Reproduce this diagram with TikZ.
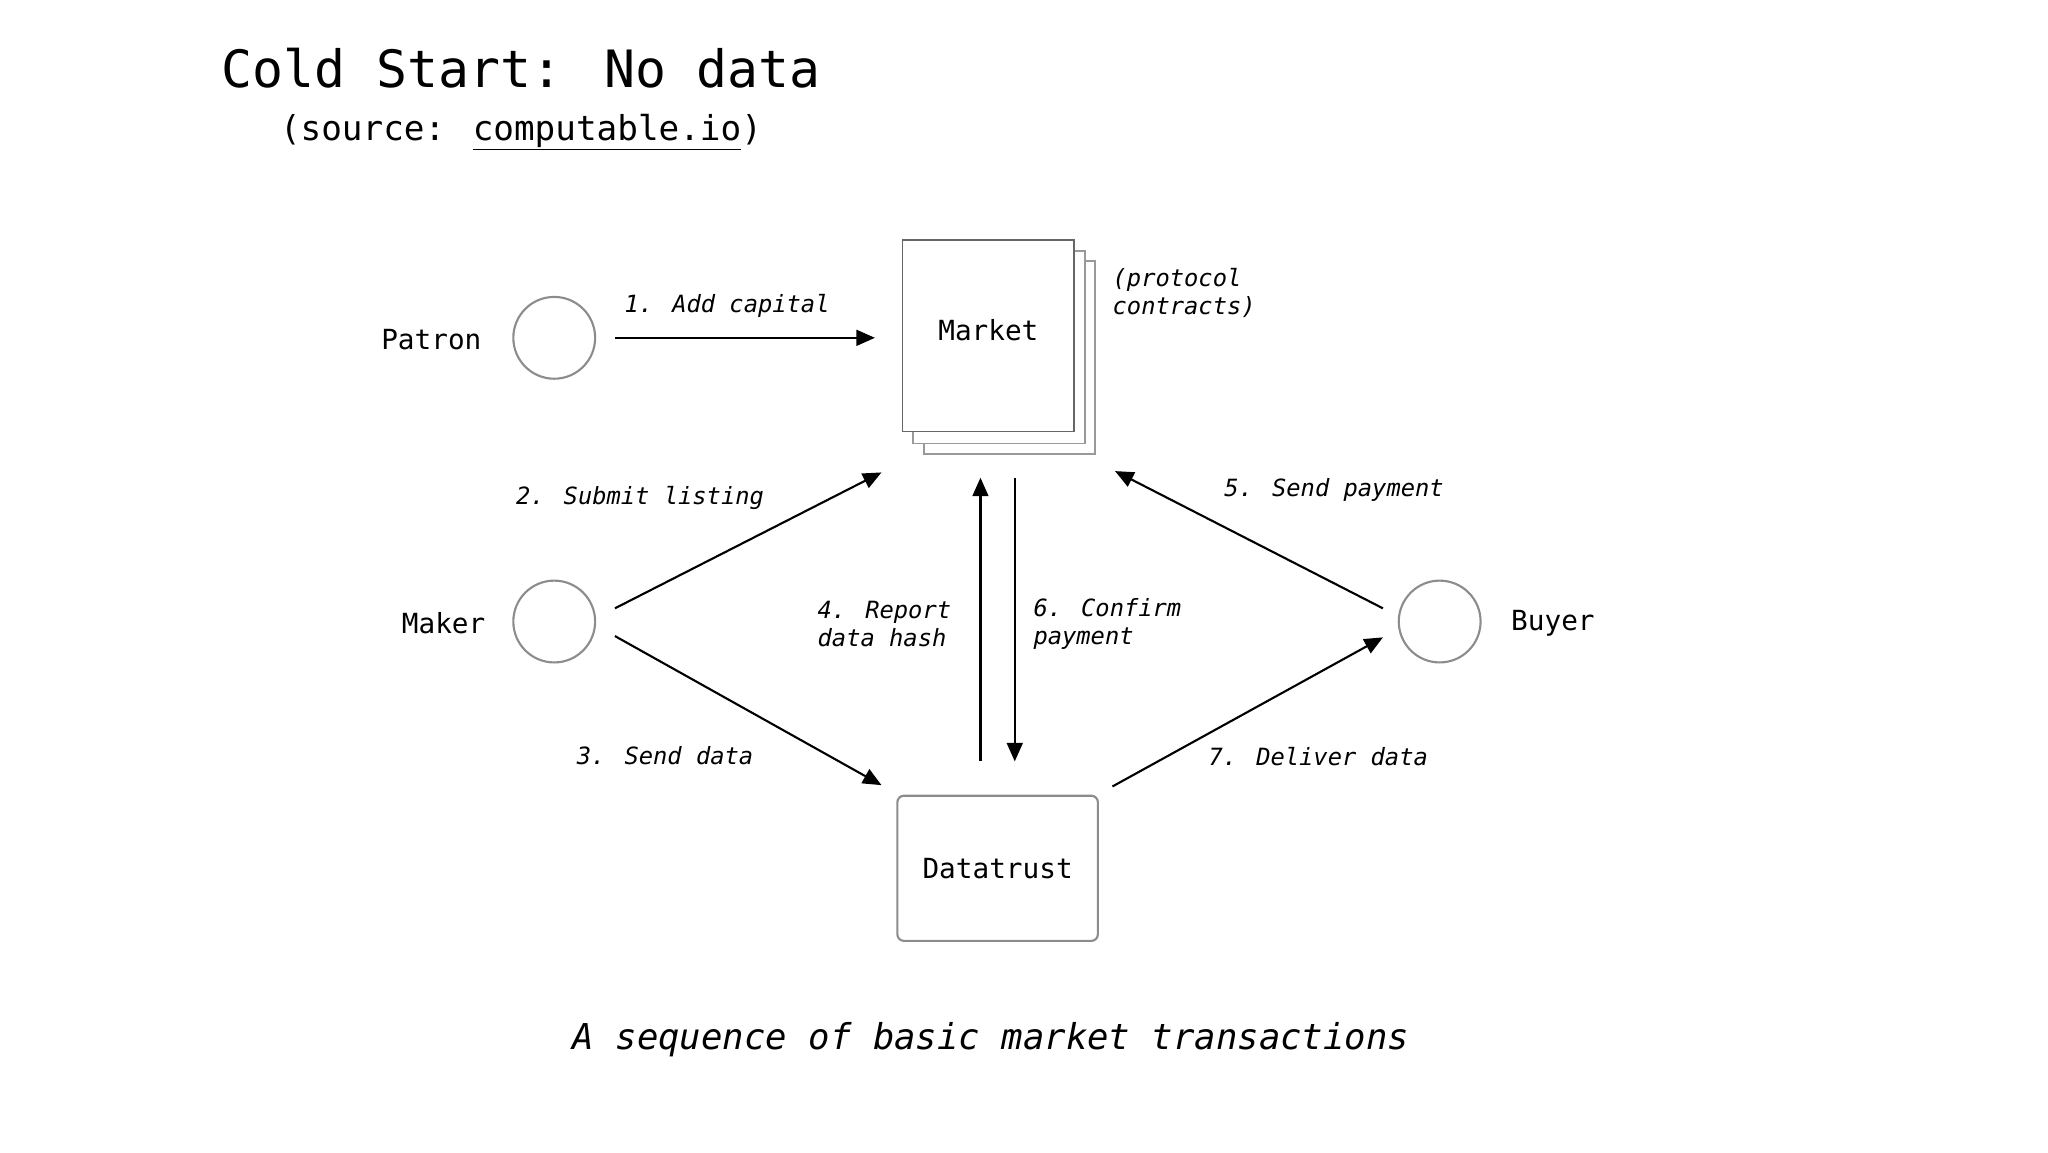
\documentclass[tikz,border=0pt]{standalone}
\usepackage{fontspec}
\setmainfont{DejaVu Sans Mono}
\setmonofont{DejaVu Sans Mono}
\usetikzlibrary{arrows.meta}
\begin{document}
\begin{tikzpicture}[x=1pt,y=-1pt,
  actor/.style={circle,draw=black!45,line width=1.6pt,minimum size=62pt,inner sep=0pt},
  lbl/.style={font=\fontsize{18}{21}\selectfont\itshape,inner sep=0pt},
  nametxt/.style={font=\fontsize{21}{24}\selectfont,inner sep=0pt},
  flow/.style={line width=1.6pt,-{Triangle[length=14pt,width=12pt]}},
  sheet/.style={draw=black!40,line width=1.2pt,fill=white}]
\useasboundingbox (0,0) rectangle (1552,873);
\node[anchor=west,font=\fontsize{39}{44}\selectfont,inner sep=0pt] (title) at (168,52) {Cold Start: No data};
\node[anchor=west,font=\fontsize{26}{30}\selectfont,inner sep=0pt] (sub) at (212,100) {(source: \underline{computable.io})};
% market stack
\draw[sheet] (700,198) rectangle (830,344);
\draw[sheet] (692,190) rectangle (822,336);
\draw[sheet,draw=black!60] (684,182) rectangle (814,327);
\node[nametxt] (market) at (749,250) {Market};
\node[lbl,anchor=north west,align=left] (proto) at (843,203) {(protocol\\contracts)};
\node[draw=black!45,line width=1.6pt,rounded corners=5pt,minimum width=152pt,minimum height=110pt] (dt) at (756,658) {};
\node[nametxt] at (dt) {Datatrust};
\node[actor] (patron) at (420,256) {};
\node[actor] (maker) at (420,471) {};
\node[actor] (buyer) at (1091,471) {};
\node[nametxt,anchor=east] (pl) at (365,257) {Patron};
\node[nametxt,anchor=east] (ml) at (368,472) {Maker};
\node[nametxt,anchor=west] (bl) at (1145,472) {Buyer};
\coordinate (a1) at (466,256); \coordinate (b1) at (663,256);
\coordinate (a2) at (466,461); \coordinate (b2) at (668,358);
\coordinate (a3) at (466,482); \coordinate (b3) at (668,595);
\coordinate (a4) at (743,577); \coordinate (b4) at (743,362);
\coordinate (a6) at (769,362); \coordinate (b6) at (769,577);
\coordinate (a5) at (1048,461); \coordinate (b5) at (845,357);
\coordinate (a7) at (843,596); \coordinate (b7) at (1048,483);
\draw[flow] (a1) -- (b1);
\draw[flow] (a2) -- (b2);
\draw[flow] (a3) -- (b3);
\draw[flow] (a4) -- (b4);
\draw[flow] (a6) -- (b6);
\draw[flow] (a5) -- (b5);
\draw[flow] (a7) -- (b7);
\node[lbl] (l1) at (551,232) {1. Add capital};
\node[lbl] (l2) at (485,377) {2. Submit listing};
\node[lbl] (l3) at (504,573) {3. Send data};
\node[lbl,anchor=east,align=left] (l4) at (721,473) {4. Report\\data hash};
\node[lbl,anchor=west,align=left] (l6) at (783,473) {6. Confirm\\payment};
\node[lbl] (l5) at (1011,371) {5. Send payment};
\node[lbl] (l7) at (999,573) {7. Deliver data};
\node[font=\fontsize{27}{30}\selectfont\itshape,inner sep=0pt] (cap) at (751,788) {A sequence of basic market transactions};
\end{tikzpicture}
\end{document}
